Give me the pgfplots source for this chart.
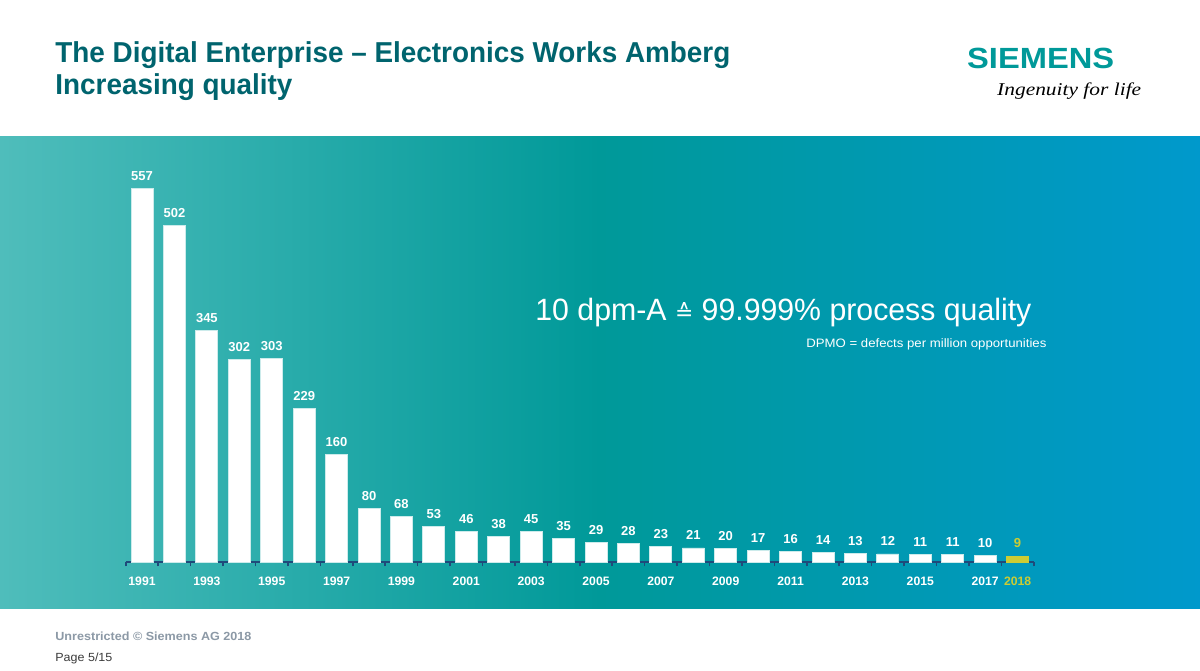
\documentclass[border=0pt]{standalone}
\usepackage{pgfplots}
\pgfplotsset{compat=1.18}
\usepackage{fontspec}
\setmainfont{Liberation Sans}
\newfontfamily\symfont{DejaVu Sans}
\newfontfamily\taglinefont{Liberation Serif}

\definecolor{titleC}{HTML}{00646E}
\definecolor{siemensC}{HTML}{009999}
\definecolor{bandL}{HTML}{4FBDBB}
\definecolor{bandM}{HTML}{009999}
\definecolor{bandR}{HTML}{0099CC}
\definecolor{axisC}{HTML}{1F4A7A}
\definecolor{yellowC}{HTML}{CCCC33}
\definecolor{footC}{HTML}{8C99A6}
\definecolor{pageC}{HTML}{3C3C3C}

% picture is 600pt x 335pt, 1 px of the slide = 0.5pt, origin top left
\begin{document}
\begin{tikzpicture}
\path[use as bounding box, fill=white] (0,0) rectangle (600pt,-335pt);
\fill[left color=bandL, right color=bandR, middle color=bandM] (0,-68pt) rectangle (600pt,-304pt);

% header
\node[anchor=base west, inner sep=0, text=titleC, font=\bfseries\fontsize{14.4}{16}\selectfont]
  at (27.5pt,-31.15pt) {\resizebox{337.5pt}{\height}{The Digital Enterprise – Electronics Works Amberg}};
\node[anchor=base west, inner sep=0, text=titleC, font=\bfseries\fontsize{14.4}{16}\selectfont]
  at (27.5pt,-47.2pt) {\resizebox{118.5pt}{\height}{Increasing quality}};
\node[anchor=base west, inner sep=0, text=siemensC, font=\bfseries\fontsize{14.6}{16}\selectfont]
  at (483.4pt,-34.15pt) {\resizebox{73.5pt}{\height}{SIEMENS}};
\node[anchor=base west, inner sep=0, text=black, font=\taglinefont\itshape\fontsize{9}{10}\selectfont]
  at (498.4pt,-47.5pt) {\resizebox{72pt}{\height}{Ingenuity for life}};

% statement
\node[anchor=base west, inner sep=0, text=white, font=\fontsize{15.4}{17}\selectfont]
  at (267.5pt,-160.2pt) {\resizebox{248pt}{\height}{10 dpm-A {\symfont\scalebox{0.72}{≙}} 99.999\% process quality}};
\node[anchor=base west, inner sep=0, text=white, font=\fontsize{6.1}{7}\selectfont]
  at (403pt,-173.5pt) {\resizebox{120pt}{\height}{DPMO = defects per million opportunities}};

% footer
\node[anchor=base west, inner sep=0, text=footC, font=\bfseries\fontsize{5.9}{7}\selectfont]
  at (27.5pt,-320.3pt) {\resizebox{98pt}{\height}{Unrestricted © Siemens AG 2018}};
\node[anchor=base west, inner sep=0, text=pageC, font=\fontsize{5.9}{7}\selectfont]
  at (27.5pt,-330.8pt) {\resizebox{28.5pt}{\height}{Page 5/15}};

\begin{axis}[
  at={(62.9pt,-281pt)}, anchor=south west,
  scale only axis, width=454pt, height=201.3pt,
  xmin=-0.5, xmax=27.5, ymin=0, ymax=600,
  axis x line*=bottom, axis y line=none,
  x axis line style={draw=axisC, line width=1pt, -},
  ybar, bar width=11pt, bar shift=0pt,
  xtick={0,2,...,26},
  xticklabels={1991,1993,1995,1997,1999,2001,2003,2005,2007,2009,2011,2013,2015,2017},
  extra x ticks={27}, extra x tick labels={2018},
  extra x tick style={xticklabel style={text=yellowC}},
  minor xtick={-0.5,0.5,...,27.5},
  tick align=outside,
  major tick length=0pt, minor tick length=2.2pt,
  minor tick style={draw=axisC, line width=0.8pt},
  xticklabel style={text=white, font=\bfseries\fontsize{6.1}{7}\selectfont, anchor=base, yshift=-11.5pt},
  /pgf/number format/assume math mode=true,
  nodes near coords={\pgfmathprintnumber{\pgfplotspointmeta}},
  every node near coord/.append style={font=\bfseries\fontsize{6.5}{7}\selectfont, anchor=base, inner sep=0pt, yshift=4pt},
  clip=false,
]
\addplot[fill=white, draw=white!80!bandM, line width=0.4pt, nodes near coords style={text=white}] coordinates {
  (0,557) (1,502) (2,345) (3,302) (4,303) (5,229) (6,160) (7,80) (8,68) (9,53)
  (10,46) (11,38) (12,45) (13,35) (14,29) (15,28) (16,23) (17,21) (18,20) (19,17)
  (20,16) (21,14) (22,13) (23,12) (24,11) (25,11) (26,10)
};
\addplot[fill=yellowC, draw=yellowC, line width=0.4pt, nodes near coords style={text=yellowC}] coordinates {
  (27,9)
};
\end{axis}
\end{tikzpicture}
\end{document}
